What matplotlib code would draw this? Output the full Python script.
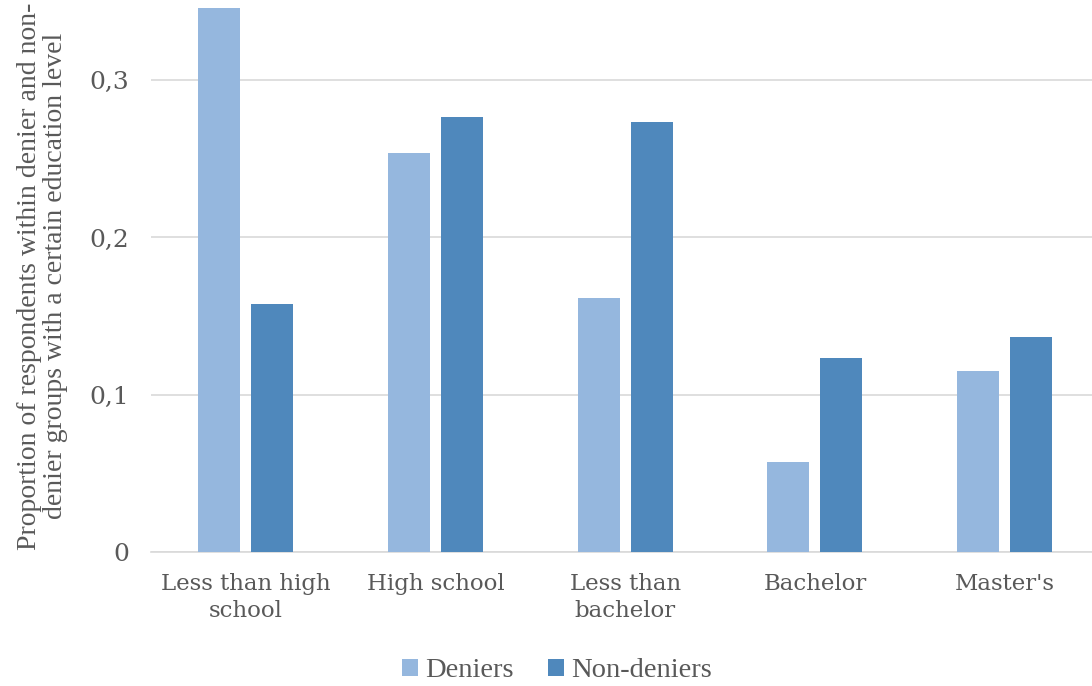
import matplotlib
matplotlib.use("Agg")
import matplotlib.pyplot as plt
import numpy as np

categories = ["Less than high\nschool", "High school", "Less than\nbachelor", "Bachelor", "Master's"]
deniers = [0.346, 0.2537, 0.1615, 0.0572, 0.115]
non_deniers = [0.158, 0.2765, 0.2734, 0.1233, 0.1367]
yticks = [0, 0.1, 0.2, 0.3]
ytick_labels = ["0", "0,1", "0,2", "0,3"]

light = "#95B7DE"
dark = "#4F88BC"
grey = "#595959"

fig = plt.figure(figsize=(10.92, 6.86), dpi=100)
ax = fig.add_axes([0.1383, 0.1953, 0.8617, 0.8047])

x = np.arange(len(categories))
w = 0.221
off = (w + 0.058) / 2
ax.bar(x - off, deniers, w, color=light, label="Deniers", zorder=3)
ax.bar(x + off, non_deniers, w, color=dark, label="Non-deniers", zorder=3)

ax.set_xlim(-0.5, 4.461)
ax.set_ylim(0, 0.351)
ax.set_yticks(yticks)
ax.set_yticklabels(ytick_labels)
ax.set_xticks(x)
ax.set_xticklabels(categories)
ax.grid(axis="y", color="#D9D9D9", linewidth=1.2, zorder=0)
for s in ["top", "right", "left"]:
    ax.spines[s].set_visible(False)
ax.spines["bottom"].set_color("#D9D9D9")
ax.spines["bottom"].set_linewidth(1.2)
ax.tick_params(length=0, colors=grey)
ax.tick_params(axis="x", pad=15)
ax.tick_params(axis="y", pad=16)
for t in ax.get_xticklabels():
    t.set_fontfamily("DejaVu Serif")
    t.set_fontsize(16.5)
    t.set_linespacing(1.3)
for t in ax.get_yticklabels():
    t.set_fontfamily("DejaVu Serif")
    t.set_fontsize(18)

ax.set_ylabel("Proportion of respondents within denier and non-\ndenier groups with a certain education level",
              fontfamily="Liberation Serif", fontsize=20, color=grey, linespacing=1.05)
ax.yaxis.set_label_coords(-0.088, 0.5)

fig.legend(loc="center", bbox_to_anchor=(0.51, 0.022), ncol=2, frameon=False,
           prop={"family": "Liberation Serif", "size": 20.5}, handlelength=0.55, handleheight=0.55,
           handletextpad=0.25, columnspacing=1.2, labelcolor=grey)

fig.savefig("out.png", dpi=100)
